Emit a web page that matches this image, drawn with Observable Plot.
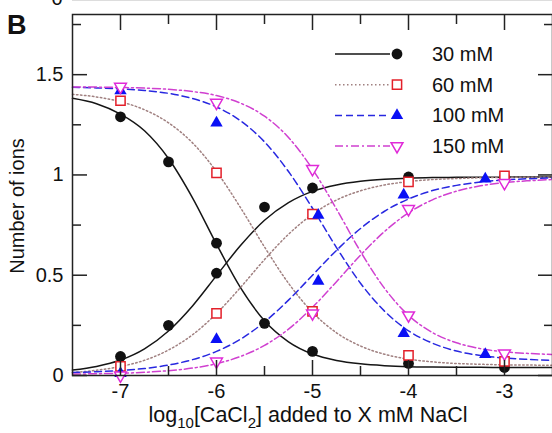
<!DOCTYPE html>
<html><head><meta charset="utf-8">
<script src="https://cdn.jsdelivr.net/npm/d3@7"></script>
<script src="https://cdn.jsdelivr.net/npm/@observablehq/plot@0.6"></script>
<style>
html,body{margin:0;padding:0;background:#fff;overflow:hidden;width:552px;height:433px}
#chart{position:relative;width:552px;height:433px;overflow:hidden}
svg{display:block}
</style></head><body><div id="chart"></div>
<script>
// ---- data ----
const seriesNames = ["30 mM", "60 mM", "100 mM", "150 mM"];

// fitted curves at these x values
const fitX = [-7.5,-7.25,-7,-6.75,-6.5,-6.25,-6,-5.75,-5.5,-5.25,-5,-4.75,-4.5,-4.25,-4,-3.75,-3.5,-3.25,-3,-2.75,-2.5];
const fit30dec  = [1.382,1.355,1.303,1.220,1.082,0.886,0.655,0.438,0.273,0.168,0.107,0.075,0.058,0.049,0.044,0.042,0.041,0.041,0.040,0.040,0.040];
const fit30inc  = [0.027,0.045,0.077,0.133,0.222,0.347,0.498,0.648,0.774,0.862,0.918,0.950,0.968,0.978,0.984,0.987,0.988,0.989,0.989,0.990,0.990];
const fit60dec  = [1.402,1.389,1.365,1.325,1.260,1.160,1.017,0.837,0.641,0.460,0.315,0.213,0.147,0.106,0.082,0.068,0.060,0.056,0.053,0.052,0.051];
const fit60inc  = [0.015,0.026,0.045,0.076,0.127,0.203,0.309,0.439,0.578,0.704,0.804,0.875,0.921,0.950,0.967,0.977,0.982,0.986,0.988,0.989,0.989];
const fit100dec = [1.437,1.434,1.429,1.421,1.407,1.381,1.339,1.270,1.165,1.017,0.834,0.638,0.460,0.321,0.223,0.161,0.122,0.100,0.087,0.080,0.075];
const fit100inc = [0.015,0.019,0.025,0.035,0.052,0.079,0.120,0.181,0.267,0.376,0.500,0.624,0.733,0.819,0.880,0.922,0.948,0.965,0.975,0.981,0.985];
const fit150dec = [1.439,1.438,1.436,1.433,1.427,1.416,1.396,1.358,1.293,1.187,1.029,0.830,0.618,0.435,0.300,0.214,0.163,0.134,0.118,0.110,0.105];
const fit150inc = [0.007,0.009,0.011,0.016,0.024,0.037,0.059,0.095,0.150,0.231,0.340,0.468,0.600,0.718,0.811,0.876,0.919,0.946,0.962,0.971,0.977];

// simulation points
const pts30x  = [-7,-6.5,-6,-5.5,-5,-4,-3];
const pts30dec = [1.29,1.065,0.66,0.26,0.12,0.06,0.04];
const pts30inc = [0.095,0.25,0.51,0.84,0.935,0.99,0.99];
const pts60x  = [-7,-6,-5,-4,-3];
const pts60dec = [1.37,1.01,0.32,0.10,0.07];
const pts60inc = [0.045,0.31,0.805,0.965,0.995];
const pts100x = [-7,-6,-4.94,-4.05,-3.2];
const pts100dec = [1.42,1.26,0.80,0.21,0.105];
const pts100inc = [0.01,0.18,0.47,0.90,0.98];
const pts150x = [-7,-6,-5,-4,-3];
const pts150dec = [1.44,1.36,1.03,0.30,0.11];
const pts150inc = [0.0,0.07,0.31,0.83,0.96];

const xMajor = [-7,-6,-5,-4,-3];
const xMinor = [-6.5,-5.5,-4.5,-3.5];
const yMajor = [0,0.5,1,1.5];
const yMinor = [0.25,0.75,1.25,1.75];

// ---- build tables ----
const fits = {
  "30 mM": [fit30dec, fit30inc], "60 mM": [fit60dec, fit60inc],
  "100 mM": [fit100dec, fit100inc], "150 mM": [fit150dec, fit150inc]
};
const pts = {
  "30 mM": [pts30x, pts30dec, pts30inc], "60 mM": [pts60x, pts60dec, pts60inc],
  "100 mM": [pts100x, pts100dec, pts100inc], "150 mM": [pts150x, pts150dec, pts150inc]
};
const style = {
  "30 mM":  {stroke:"#151515", dash:null,       symbol:"circle",   fill:"#111",    mstroke:"none",    r:5.4, rotate:0},
  "60 mM":  {stroke:"#a08080", dash:"1.5,2.5",  symbol:"square",   fill:"white",   mstroke:"#e3202a", r:5.2, rotate:0},
  "100 mM": {stroke:"#2828e0", dash:"7,4",      symbol:"triangle", fill:"#0a10f5", mstroke:"none",    r:4.6, rotate:0},
  "150 mM": {stroke:"#d040d0", dash:"8,3,2,3",  symbol:"triangle", fill:"white",   mstroke:"#e02ad8", r:4.4, rotate:180}
};

const marks = [];
for (const s of seriesNames) {
  const st = style[s];
  for (const arr of fits[s]) {
    const rows = fitX.map((x, i) => ({x, y: arr[i]}));
    marks.push(Plot.line(rows, {x:"x", y:"y", stroke: st.stroke, strokeWidth: 1.5, strokeDasharray: st.dash, curve: "monotone-x"}));
  }
}
for (const s of seriesNames) {
  const st = style[s];
  const [xs, dec, inc] = pts[s];
  const rows = [];
  xs.forEach((x, i) => { rows.push({x, y: dec[i]}); rows.push({x, y: inc[i]}); });
  marks.push(Plot.dot(rows, {x:"x", y:"y", symbol: st.symbol, r: st.r, fill: st.fill, stroke: st.mstroke, strokeWidth: 1.5, rotate: st.rotate}));
}

const tk = {stroke:"#222", strokeWidth:1.5, label:null, tickFormat: () => ""};
marks.push(
  Plot.axisX({...tk, anchor:"bottom", ticks:xMajor, tickSize:-15}),
  Plot.axisX({...tk, anchor:"bottom", ticks:xMinor, tickSize:-9}),
  Plot.axisX({...tk, anchor:"top", ticks:xMajor, tickSize:-15}),
  Plot.axisX({...tk, anchor:"top", ticks:xMinor, tickSize:-9}),
  Plot.axisY({...tk, anchor:"left", ticks:yMajor, tickSize:-15}),
  Plot.axisY({...tk, anchor:"left", ticks:yMinor, tickSize:-9}),
  Plot.axisY({...tk, anchor:"right", ticks:yMajor, tickSize:-15}),
  Plot.axisY({...tk, anchor:"right", ticks:yMinor, tickSize:-9}),
  Plot.axisX({anchor:"bottom", ticks:xMajor, tickSize:0, tickPadding:8, tickFormat: d => String(d), label:null, fill:"#111"}),
  Plot.axisY({anchor:"left", ticks:yMajor, tickSize:0, tickPadding:9, tickFormat: d => String(d), label:null, fill:"#111"}),
  Plot.frame({stroke:"#222", strokeWidth:1.5})
);

const chart = Plot.plot({
  width: 560, height: 433,
  marginLeft: 72, marginRight: 8, marginTop: 14, marginBottom: 58,
  x: {domain: [-7.5, -2.5]},
  y: {domain: [0, 1.8]},
  style: {fontFamily: "'Liberation Sans', Arial, sans-serif", fontSize: "20px", background: "white", color: "#111", overflow: "visible"},
  marks
});
chart.style.maxWidth = "none";
chart.style.width = "560px";
chart.style.height = "433px";
document.getElementById("chart").appendChild(chart);

// ---- titles, panel letter, legend ----
const svg = d3.select(chart);
const font = "'Liberation Sans', Arial, sans-serif";
const txt = (sel) => sel.attr("font-family", font).attr("fill", "#111");
svg.append("line").attr("x1", 72).attr("x2", 552).attr("y1", 0.5).attr("y2", 0.5).attr("stroke", "#ddd");
txt(svg.append("text")).attr("x", 57).attr("y", 5).attr("text-anchor", "middle").attr("font-size", 20).text("0");
txt(svg.append("text")).attr("x", 7).attr("y", 34).attr("text-anchor", "start").attr("font-size", 27).attr("font-weight", "bold").text("B");
txt(svg.append("text")).attr("transform", "translate(24,206) rotate(-90)").attr("text-anchor", "middle")
  .attr("font-size", 20).text("Number of ions");
const xt = txt(svg.append("text")).attr("x", 308).attr("y", 422).attr("text-anchor", "middle").attr("font-size", 21.5);
xt.append("tspan").text("log");
xt.append("tspan").attr("font-size", 15).attr("dy", 6).text("10");
xt.append("tspan").attr("dy", -6).text("[CaCl");
xt.append("tspan").attr("font-size", 15).attr("dy", 6).text("2");
xt.append("tspan").attr("dy", -6).text("] added to X mM NaCl");

const symMap = {circle: d3.symbolCircle, square: d3.symbolSquare, triangle: d3.symbolTriangle};
const lg = svg.append("g");
seriesNames.forEach((s, i) => {
  const st = style[s];
  const y = 54 + i * 30.7;
  lg.append("line").attr("x1", 335).attr("x2", 390).attr("y1", y).attr("y2", y)
    .attr("stroke", st.stroke).attr("stroke-width", 1.5).attr("stroke-dasharray", st.dash);
  lg.append("path").attr("d", d3.symbol(symMap[st.symbol], Math.PI * st.r * st.r)())
    .attr("transform", `translate(397,${y}) rotate(${st.rotate})`)
    .attr("fill", st.fill).attr("stroke", st.mstroke).attr("stroke-width", 1.5);
  txt(lg.append("text")).attr("x", 432).attr("y", y).attr("dy", "0.35em").attr("text-anchor", "start")
    .attr("font-size", 20).text(s);
});
</script></body></html>
